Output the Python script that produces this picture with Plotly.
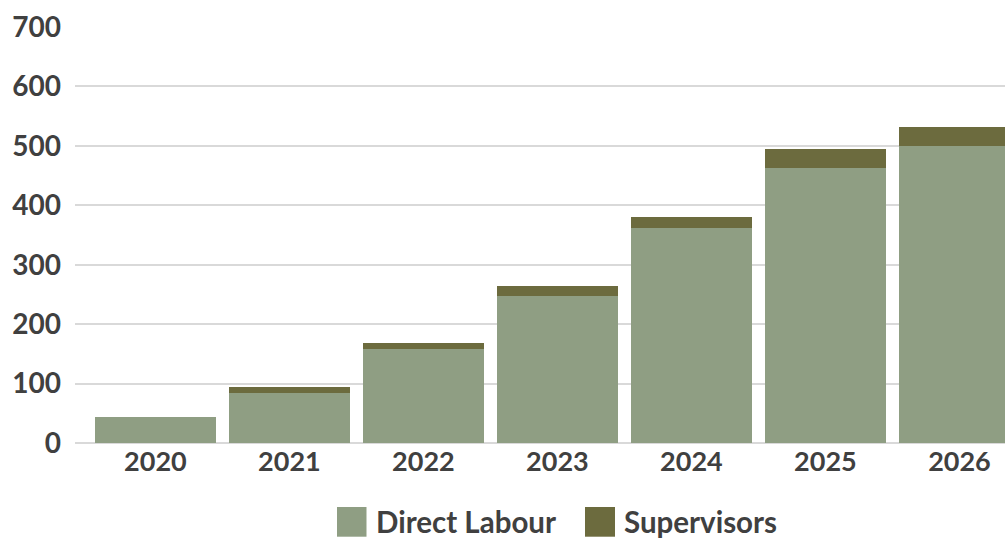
import plotly.graph_objects as go

years = ["2020", "2021", "2022", "2023", "2024", "2025", "2026"]
direct_labour = [43, 84, 158, 247, 362, 463, 500]
supervisors = [0, 10, 10, 17, 18, 31, 32]
y_ticks = [0, 100, 200, 300, 400, 500, 600, 700]

C_DIRECT = "#8F9E83"
C_SUP = "#6C6B3E"
TXT = "#404040"
FONT = "Lato"

fig = go.Figure()
fig.add_trace(go.Bar(x=years, y=direct_labour, name="Direct Labour",
                     marker=dict(color=C_DIRECT, line=dict(width=0))))
fig.add_trace(go.Bar(x=years, y=supervisors, name="Supervisors",
                     marker=dict(color=C_SUP, line=dict(width=0))))

W, H = 1005, 538
L, R, T, B = 75, 0, 27, 95
pw, ph = W - L - R, H - T - B

def px_x(p):
    return (p - L) / pw

def px_y(p):
    return (H - B - p) / ph

shapes = []
annotations = []
items = [("Direct Labour", C_DIRECT, 337, 366.5, 374),
         ("Supervisors", C_SUP, 585, 615, 621.5)]
for name, col, x0, x1, tx in items:
    shapes.append(dict(type="rect", xref="paper", yref="paper",
                       x0=px_x(x0), x1=px_x(x1), y0=px_y(536.7), y1=px_y(507),
                       fillcolor=col, line=dict(width=0)))
    annotations.append(dict(text=name, xref="paper", yref="paper",
                            x=px_x(tx), y=px_y(521), xanchor="left", yanchor="middle",
                            showarrow=False,
                            font=dict(family=FONT, size=29.5, color=TXT, weight="bold")))

fig.update_layout(
    width=W, height=H,
    barmode="stack", bargap=0.1,
    margin=dict(l=L, r=R, t=T, b=B, pad=0),
    plot_bgcolor="white", paper_bgcolor="white",
    showlegend=False,
    font=dict(family=FONT, size=27, color=TXT, weight="bold"),
    shapes=shapes, annotations=annotations,
    xaxis=dict(range=[-0.6, 6.34], showgrid=False, showline=False, ticks="",
               tickfont=dict(family=FONT, size=27, color=TXT, weight="bold"),
               fixedrange=True),
    yaxis=dict(range=[0, 700], tickvals=y_ticks, showgrid=True, gridcolor="#D9D9D9",
               gridwidth=2, zeroline=True, zerolinecolor="#D9D9D9", zerolinewidth=2,
               showline=False, ticks="", ticklabelstandoff=13,
               tickfont=dict(family=FONT, size=28, color=TXT, weight="bold")),
)

fig.write_html("out.html", config={"displayModeBar": False},
               post_script="document.body.style.margin='0px';document.body.style.overflow='hidden';")
